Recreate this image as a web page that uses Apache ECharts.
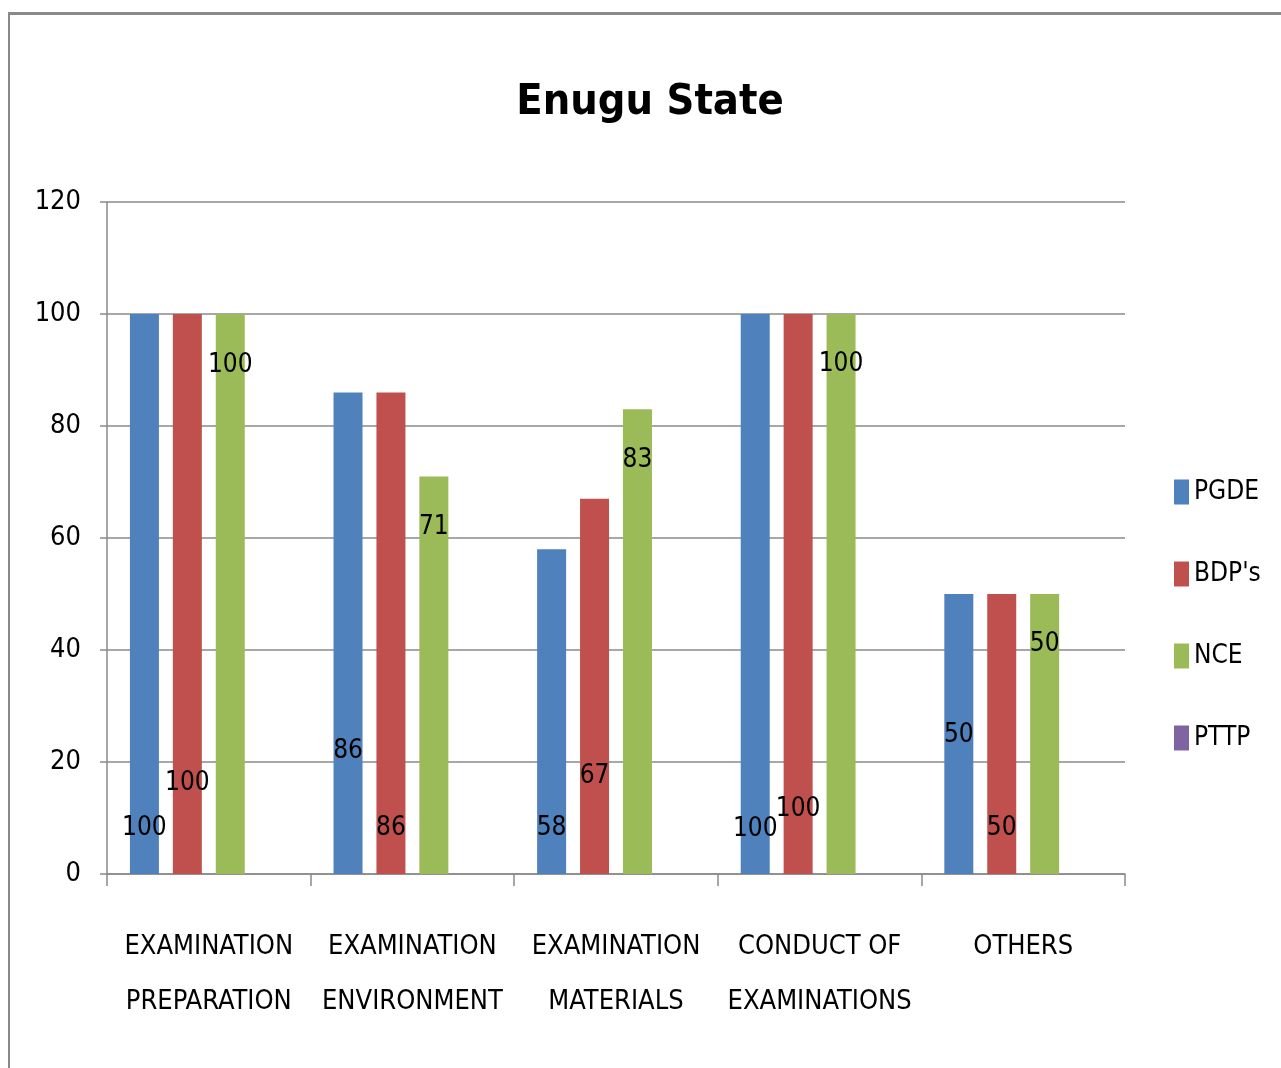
<!DOCTYPE html>
<html>
<head>
<meta charset="utf-8">
<script src="https://cdn.jsdelivr.net/npm/echarts@6/dist/echarts.min.js"></script>
<style>
html,body{margin:0;padding:0;background:#fff;}
#wrap{position:relative;width:1281px;height:1068px;}
#chart{position:absolute;left:0;top:0;width:1281px;height:1068px;}
#frame{position:absolute;left:8px;top:12px;right:0;bottom:0;border-top:3px solid #8a8a8a;border-left:2px solid #8a8a8a;pointer-events:none;}
</style>
</head>
<body>
<div id="wrap"><div id="chart"></div><div id="frame"></div></div>
<script>
var categories = ['EXAMINATION\nPREPARATION', 'EXAMINATION\nENVIRONMENT', 'EXAMINATION\nMATERIALS', 'CONDUCT OF\nEXAMINATIONS', 'OTHERS'];
var seriesNames = ['PGDE', "BDP's", 'NCE', 'PTTP'];
var pgde = [100, 86, 58, 100, 50];
var bdps = [100, 86, 67, 100, 50];
var nce = [100, 71, 83, 100, 50];
var pttp = [null, null, null, null, null];
var yTicks = [0, 20, 40, 60, 80, 100, 120];

// label placement style (pixel lift of label centre above the axis)
var labelLift = [
  [46, 123, 46, 45, 139],
  [91, 46, 98, 65, 46],
  [509, 347, 414, 510, 230],
  [0, 0, 0, 0, 0]
];
var colors = ['#4F81BD', '#C0504D', '#9BBB59', '#8064A2'];
var FONT = '"Liberation Sans Narrow", "DejaVu Sans Condensed", "Liberation Sans", sans-serif';

var allData = [pgde, bdps, nce, pttp];
var series = allData.map(function (arr, si) {
  return {
    name: seriesNames[si],
    type: 'bar',
    barWidth: 29,
    barGap: '48%',
    barCategoryGap: '21%',
    itemStyle: { color: colors[si] },
    data: arr.map(function (v, i) {
      return {
        value: v,
        label: {
          show: v !== null,
          position: 'insideBottom',
          distance: 0,
          verticalAlign: 'middle',
          offset: [0, -labelLift[si][i]],
          color: '#000',
          fontFamily: FONT,
          fontSize: 26
        }
      };
    })
  };
});

var chart = echarts.init(document.getElementById('chart'), null, { renderer: 'canvas' });
chart.setOption({
  animation: false,
  backgroundColor: '#fff',
  title: {
    text: 'Enugu State',
    left: 645,
    top: 76,
    textAlign: 'center',
    textStyle: { fontFamily: FONT, fontWeight: 'bold', fontSize: 43, color: '#000' }
  },
  legend: {
    orient: 'vertical',
    left: 1169,
    top: 474,
    itemWidth: 15,
    itemHeight: 25,
    itemGap: 56,
    itemTextGap: 7,
    icon: 'rect',
    data: seriesNames,
    textStyle: { fontFamily: FONT, fontSize: 26, color: '#000' }
  },
  grid: { left: 107, right: 156, top: 202, bottom: 194, containLabel: false },
  xAxis: {
    type: 'category',
    data: categories,
    axisLine: { lineStyle: { color: '#8a8a8a', width: 1.5 } },
    axisTick: { show: true, length: 12, alignWithLabel: false, lineStyle: { color: '#8a8a8a', width: 1.5 } },
    axisLabel: { margin: 45, fontFamily: FONT, fontSize: 27, lineHeight: 55, color: '#000', interval: 0 }
  },
  yAxis: {
    type: 'value',
    min: yTicks[0],
    max: yTicks[yTicks.length - 1],
    interval: yTicks[1] - yTicks[0],
    axisLine: { show: true, lineStyle: { color: '#8a8a8a', width: 1.5 } },
    axisTick: { show: true, length: 7, lineStyle: { color: '#8a8a8a', width: 1.5 } },
    splitLine: { lineStyle: { color: '#8a8a8a', width: 1.5 } },
    axisLabel: { margin: 26, fontFamily: FONT, fontSize: 27, color: '#000' }
  },
  series: series
});
</script>
</body>
</html>
